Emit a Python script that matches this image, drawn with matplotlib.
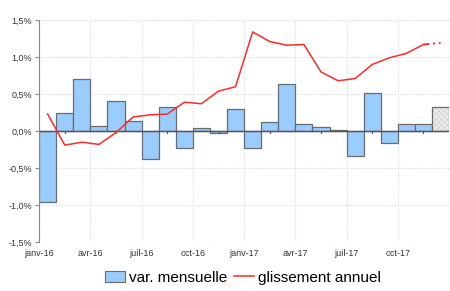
import numpy as np
import matplotlib.pyplot as plt
from matplotlib.patches import Patch
from matplotlib.lines import Line2D

plt.rcParams['font.family'] = ['Liberation Sans', 'DejaVu Sans']
plt.rcParams['hatch.linewidth'] = 0.4

# Données (en %)
mois = ['janv-16', 'févr-16', 'mars-16', 'avr-16', 'mai-16', 'juin-16',
        'juil-16', 'août-16', 'sept-16', 'oct-16', 'nov-16', 'déc-16',
        'janv-17', 'févr-17', 'mars-17', 'avr-17', 'mai-17', 'juin-17',
        'juil-17', 'août-17', 'sept-17', 'oct-17', 'nov-17', 'déc-17']
var_mensuelle = [-0.96, 0.25, 0.70, 0.07, 0.41, 0.13, -0.38, 0.33, -0.23, 0.04, -0.02, 0.30,
                 -0.23, 0.12, 0.64, 0.09, 0.05, 0.01, -0.34, 0.51, -0.16, 0.10, 0.10, 0.32]
glissement = [0.23, -0.19, -0.15, -0.18, -0.02, 0.19, 0.22, 0.23, 0.39, 0.37, 0.54, 0.60,
              1.34, 1.21, 1.16, 1.17, 0.80, 0.68, 0.71, 0.90, 0.99, 1.05, 1.17, 1.19]
labels_x = ['janv-16', 'avr-16', 'juil-16', 'oct-16', 'janv-17', 'avr-17', 'juil-17', 'oct-17']
n_prev = 1  # dernier mois = prévision

x = np.arange(len(mois))
fin = len(mois) - n_prev
fig = plt.figure(figsize=(4.5, 2.91), dpi=100)
ax = fig.add_axes([0.087, 0.168, 0.911, 0.763])

ax.bar(x[:fin], var_mensuelle[:fin], width=1.0, color='#99ccff', edgecolor='#6b6b6b',
       linewidth=0.9, zorder=2)
# prévision : fond hachuré clair puis contour
ax.bar(x[fin:], var_mensuelle[fin:], width=1.0, color='#ececec', edgecolor='#cdcdcd',
       hatch='xxxxxx', linewidth=0, zorder=2)
ax.bar(x[fin:], var_mensuelle[fin:], width=1.0, fill=False, edgecolor='#6b6b6b',
       linewidth=0.9, zorder=2.1)

ax.plot(x[:fin], glissement[:fin], color='#ff2a2a', lw=1.1, zorder=3)
ax.plot(x[fin - 1:], glissement[fin - 1:], color='#ff2a2a', lw=1.4,
        ls=(0, (3, 2, 1, 2)), zorder=3)

# ligne du zéro
ax.axhline(0, color='#555555', lw=1.0, zorder=2.5)
for t in np.arange(-0.5 + 1.5, len(mois), 3):
    ax.plot([t, t], [0, -0.03], color='#555555', lw=0.8, zorder=2.5)

ax.set_xlim(-0.5, len(mois) - 0.5)
ax.set_ylim(-1.5, 1.5)
ax.set_yticks(np.arange(-1.5, 1.51, 0.5))
ax.set_yticklabels([f'{v:.1f}%'.replace('.', ',') for v in np.arange(-1.5, 1.51, 0.5)])
ax.set_xticks(np.arange(-0.5, len(mois) - 0.5, 3))
ax.set_xticklabels(labels_x)
ax.tick_params(axis='both', labelsize=6.5, colors='#333333', length=3, width=0.8)
ax.tick_params(axis='x', length=0, pad=5)
ax.tick_params(axis='y', pad=2, color='#888888')

ax.grid(True, ls=(0, (1, 1.5)), color='#d6d6d6', lw=0.8, zorder=0)
for s in ['top', 'right', 'bottom']:
    ax.spines[s].set_visible(False)
ax.spines['left'].set_color('#888888')

handles = [Patch(facecolor='#99ccff', edgecolor='#6b6b6b', lw=0.8),
           Line2D([0], [0], color='#ff2a2a', lw=1.1)]
fig.legend(handles, ['var. mensuelle', 'glissement annuel'], loc='lower center',
           bbox_to_anchor=(0.54, -0.025), ncol=2, frameon=False, fontsize=11,
           handlelength=1.3, handleheight=0.75, handletextpad=0.25, columnspacing=0.45)

fig.savefig('out.png', dpi=100)
